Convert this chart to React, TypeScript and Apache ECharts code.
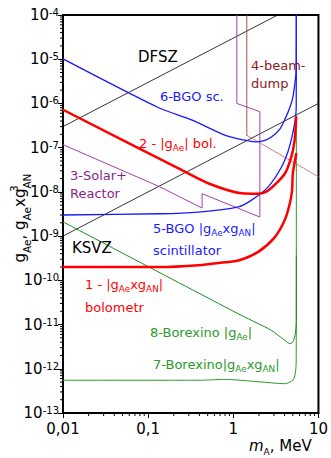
import React, { useEffect, useRef } from 'react';
import * as echarts from 'echarts';

const FONT = 'DejaVu Sans';

// axes
const xTicks = [0.01, 0.1, 1, 10];
const xTickLabels = ['0,01', '0,1', '1', '10'];
const yMinVal = 1e-13;
const yMaxVal = 1e-4;
const xMinVal = 0.01;
const xMaxVal = 10;

// DFSZ / KSVZ model lines
const dfszM = [0.01, 3.33];
const dfszG = [3.0e-7, 1.0e-4];
const ksvzM = [0.01, 10];
const ksvzG = [1.0e-9, 1.0e-6];

// 6 - BGO sc.
const bgo6M = [0.01, 0.135, 0.329, 0.805, 1.3, 1.8, 2.3, 2.8, 3.5, 4.0, 4.6, 5.0, 5.4, 5.48, 5.5];
const bgo6G = [1.02e-5, 7.9e-7, 4.2e-7, 1.9e-7, 1.5e-7, 1.35e-7, 1.45e-7, 1.74e-7, 2.6e-7, 4.2e-7, 8.0e-7, 1.38e-6, 4.0e-6, 6.6e-6, 1.0e-4];

// 5 - BGO |gAe x gAN| scintillator
const bgo5M = [0.01, 0.135, 0.39, 1.15, 1.64, 2.57, 3.67, 4.37, 4.9, 5.3, 5.48, 5.5];
const bgo5G = [3.0e-9, 3.2e-9, 3.5e-9, 4.6e-9, 6.5e-9, 1.3e-8, 3.6e-8, 8.0e-8, 1.8e-7, 4.0e-7, 8.0e-7, 1.0e-4];

// 2 - |gAe| bol.
const bol2M = [0.01, 0.23, 0.514, 1.26, 1.96, 2.57, 4.02, 4.8, 5.25, 5.48];
const bol2G = [7.2e-7, 3.35e-8, 1.55e-8, 9.3e-9, 9.1e-9, 1.07e-8, 2.57e-8, 6.2e-8, 1.48e-7, 4.9e-7];

// 1 - |gAe x gAN| bolometr
const bol1M = [0.01, 0.135, 0.39, 0.8, 1.15, 1.96, 3.08, 4.02, 4.6, 4.9, 5.0, 5.48];
const bol1G = [2.0e-10, 2.0e-10, 2.2e-10, 2.57e-10, 2.8e-10, 4.4e-10, 9.5e-10, 2.3e-9, 5.4e-9, 1.07e-8, 2.6e-8, 7.2e-8];

// 3 - Solar + Reactor
const solarM = [0.01, 0.135, 0.43, 0.43, 2.05, 2.05, 1.1, 1.1];
const solarG = [1.17e-7, 1.32e-8, 4.3e-9, 9.1e-9, 2.7e-9, 6.5e-7, 1.0e-6, 1.0e-4];

// 4 - beam dump
const beamVM = [1.44, 1.44];
const beamVG = [1.0e-4, 1.9e-7];
const beamDM = [1.44, 10];
const beamDG = [1.9e-7, 2.2e-8];

// 8 - Borexino |gAe|
const bx8M = [0.01, 1.15, 1.96, 2.8, 4.02, 4.6, 5.0, 5.35, 5.5, 5.5];
const bx8G = [2.1e-9, 1.74e-11, 1.05e-11, 7.4e-12, 4.4e-12, 3.7e-12, 4.0e-12, 6.2e-12, 1.23e-11, 3.6e-10];

// 7 - Borexino |gAe x gAN|
const bx7M = [0.01, 0.39, 0.8, 1.96, 4.02, 5.0, 5.35, 5.48, 5.5];
const bx7G = [5.5e-13, 5.5e-13, 5.75e-13, 5.1e-13, 4.6e-13, 5.5e-13, 7.9e-13, 1.6e-12, 5.0e-7];

const labelSpecs = [
  { text: 'DFSZ', x: 138, y: 57, color: '#000000', size: 15 },
  { text: '6-BGO sc.', x: 160, y: 96, color: '#1a1aff', size: 13 },
  { text: '2 - |g{sub|Ae}| bol.', x: 139, y: 143, color: '#ff0000', size: 13 },
  { text: '3-Solar+', x: 70, y: 175, color: '#8a1f8a', size: 13 },
  { text: 'Reactor', x: 70, y: 193, color: '#8a1f8a', size: 13 },
  { text: '4-beam-', x: 251, y: 65, color: '#8b1a1a', size: 13 },
  { text: 'dump', x: 251, y: 83, color: '#8b1a1a', size: 13 },
  { text: '5-BGO |g{sub|Ae}xg{sub|AN}|', x: 153, y: 228, color: '#1a1aff', size: 13 },
  { text: 'scintillator', x: 153, y: 250, color: '#1a1aff', size: 13 },
  { text: 'KSVZ', x: 72, y: 248, color: '#000000', size: 15 },
  { text: '1 - |g{sub|Ae}xg{sub|AN}|', x: 85, y: 284, color: '#ff0000', size: 13 },
  { text: 'bolometr', x: 85, y: 307, color: '#ff0000', size: 13 },
  { text: '8-Borexino |g{sub|Ae}|', x: 150, y: 332, color: '#2a9a2a', size: 13 },
  { text: '7-Borexino|g{sub|Ae}xg{sub|AN}|', x: 153, y: 364, color: '#2a9a2a', size: 13 },
];

function zip(m: number[], g: number[]) {
  return m.map((x, i) => [x, g[i]]);
}

function line(name: string, m: number[], g: number[], color: string, width: number, type: any = 'solid', z = 2, smooth: number | boolean = false) {
  return {
    type: 'line',
    name,
    data: zip(m, g),
    symbol: 'none',
    showSymbol: false,
    clip: true,
    silent: true,
    z,
    smooth,
    lineStyle: { color, width, type, cap: 'round', join: 'round' },
  };
}

function minorValues(fromExp: number, toExp: number) {
  const out: number[] = [];
  for (let e = fromExp; e < toExp; e++) {
    for (let k = 2; k <= 9; k++) out.push(k * Math.pow(10, e));
  }
  return out;
}

export default function App() {
  const ref = useRef<HTMLDivElement>(null);
  useEffect(() => {
    if (!ref.current) return;
    const chart = echarts.init(ref.current, undefined, { renderer: 'svg' });

    const yMinor = minorValues(-13, -4).map((v) => [xMinVal, v]);
    const xMinor = minorValues(-2, 1).map((v) => [v, yMinVal]);

    const tickSeries = (data: number[][], axis: 'x' | 'y') => ({
      type: 'custom',
      coordinateSystem: 'cartesian2d',
      clip: false,
      silent: true,
      z: 10,
      data,
      renderItem: (params: any, api: any) => {
        const p = api.coord([api.value(0), api.value(1)]);
        const shape =
          axis === 'y'
            ? { x1: p[0] - 3, y1: p[1], x2: p[0], y2: p[1] }
            : { x1: p[0], y1: p[1], x2: p[0], y2: p[1] + 3 };
        return { type: 'line', shape, style: { stroke: '#000', lineWidth: 1 } };
      },
    });

    const subRich = (color: string, size: number) => ({
      sub: { fontSize: size * 0.68, fontFamily: FONT, fill: color, verticalAlign: 'bottom', lineHeight: 10 },
    });

    const graphics: any[] = labelSpecs.map((l) => ({
      type: 'text',
      x: l.x,
      y: l.y,
      silent: true,
      z: 100,
      style: {
        text: l.text,
        fill: l.color,
        fontSize: l.size,
        fontFamily: FONT,
        align: 'left',
        verticalAlign: 'middle',
        lineHeight: 19,
        rich: subRich(l.color, l.size),
      },
    }));

    graphics.push({
      type: 'text',
      x: 20,
      y: 218,
      rotation: Math.PI / 2,
      silent: true,
      z: 100,
      style: {
        text: 'g{sub|Ae}, g{sub|Ae}xg{sup|3}{sub|AN}',
        fill: '#000',
        fontSize: 15,
        fontFamily: FONT,
        align: 'center',
        verticalAlign: 'middle',
        lineHeight: 24,
        rich: {
          sub: { fontSize: 10.5, fontFamily: FONT, fill: '#000', verticalAlign: 'bottom', lineHeight: 11 },
          sup: { fontSize: 10.5, fontFamily: FONT, fill: '#000', verticalAlign: 'top', lineHeight: 11, width: 0 },
        },
      },
    });

    graphics.push({
      type: 'text',
      x: 249,
      y: 446,
      silent: true,
      z: 100,
      style: {
        text: '{it|m}{sub|A}, MeV',
        fill: '#000',
        fontSize: 15,
        fontFamily: FONT,
        align: 'left',
        verticalAlign: 'middle',
        lineHeight: 20,
        rich: {
          it: { fontSize: 15, fontFamily: FONT, fontStyle: 'italic', fill: '#000' },
          sub: { fontSize: 9, fontFamily: FONT, fill: '#000', verticalAlign: 'bottom', lineHeight: 9 },
        },
      },
    });

    chart.setOption({
      animation: false,
      backgroundColor: '#ffffff',
      grid: {
        left: 63,
        right: 10,
        top: 15,
        bottom: 45,
        show: true,
        borderColor: '#000',
        borderWidth: 2,
        backgroundColor: 'transparent',
      },
      xAxis: {
        type: 'log',
        logBase: 10,
        min: xMinVal,
        max: xMaxVal,
        splitNumber: 10,
        splitLine: { show: false },
        axisLine: { show: true, lineStyle: { color: '#000', width: 2 } },
        axisTick: { show: true, length: 5, inside: false, lineStyle: { color: '#000', width: 1 } },
        minorTick: { show: false },
        axisLabel: {
          margin: 8,
          fontSize: 15,
          fontFamily: FONT,
          color: '#000',
          showMinLabel: true,
          showMaxLabel: true,
          formatter: (v: number) => {
            const i = xTicks.findIndex((t) => Math.abs(Math.log10(t) - Math.log10(v)) < 1e-6);
            return i >= 0 ? xTickLabels[i] : '';
          },
        },
      },
      yAxis: {
        type: 'log',
        logBase: 10,
        min: yMinVal,
        max: yMaxVal,
        splitNumber: 10,
        splitLine: { show: false },
        axisLine: { show: true, lineStyle: { color: '#000', width: 2 } },
        axisTick: { show: true, length: 5, inside: false, lineStyle: { color: '#000', width: 1 } },
        minorTick: { show: false },
        axisLabel: {
          margin: 4,
          fontSize: 15,
          fontFamily: FONT,
          color: '#000',
          showMinLabel: true,
          showMaxLabel: true,
          formatter: (v: number) => '{b|10}{sup|' + Math.round(Math.log10(v)) + '}',
          rich: {
            b: { fontSize: 15, fontFamily: FONT, color: '#000' },
            sup: { fontSize: 10, fontFamily: FONT, color: '#000', verticalAlign: 'top' },
          },
        },
      },
      graphic: graphics,
      series: [
        line('DFSZ', dfszM, dfszG, '#000000', 0.8, 'solid', 2),
        line('KSVZ', ksvzM, ksvzG, '#000000', 0.8, 'solid', 2),
        line('3-Solar+Reactor', solarM, solarG, '#a040b0', 1, 'solid', 3),
        line('4-beam-dump', beamVM, beamVG, '#a0302a', 1, 'dotted', 3),
        line('4-beam-dump diag', beamDM, beamDG, '#c87070', 1, 'dotted', 3),
        line('7-Borexino', bx7M, bx7G, '#2a9a2a', 1, 'solid', 3, 0.25),
        line('8-Borexino', bx8M, bx8G, '#1e8c1e', 1, 'solid', 3, 0.25),
        line('6-BGO sc.', bgo6M, bgo6G, '#1a1aff', 1.3, 'solid', 4, 0.25),
        line('5-BGO', bgo5M, bgo5G, '#1a1aff', 1.3, 'solid', 4, 0.25),
        line('2-bol', bol2M, bol2G, '#ff0000', 2.5, 'solid', 5, 0.25),
        line('1-bol', bol1M, bol1G, '#ff0000', 2.5, 'solid', 5, 0.25),
        tickSeries(yMinor, 'y'),
        tickSeries(xMinor, 'x'),
      ],
    });
    return () => chart.dispose();
  }, []);
  return <div ref={ref} style={{ position: 'absolute', left: 0, top: 0, width: 331, height: 458 }} />;
}
